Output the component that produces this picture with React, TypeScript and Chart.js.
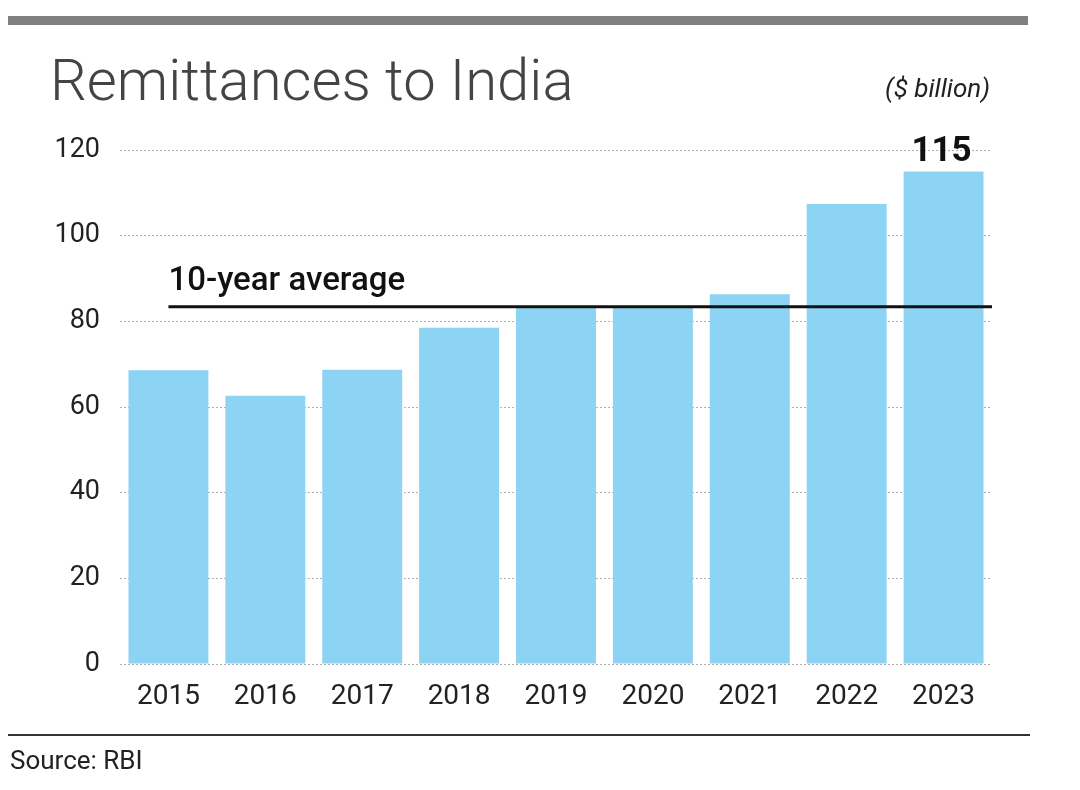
import { useEffect, useRef } from "react";
import { Chart, registerables } from "chart.js";

Chart.register(...registerables);

const years = ["2015", "2016", "2017", "2018", "2019", "2020", "2021", "2022", "2023"];
const remittances = [68.6, 62.6, 68.7, 78.5, 83.3, 83.2, 86.3, 107.4, 115.0];
const tenYearAverage = 83.4;
const yTickValues = [0, 20, 40, 60, 80, 100, 120];
const titleText = "Remittances to India";
const unitText = "($ billion)";
const averageText = "10-year average";
const highlightText = "115";
const sourceText = "Source: RBI";

const sans = "Roboto, 'Noto Sans', sans-serif";

export default function App() {
  const canvasRef = useRef<HTMLCanvasElement | null>(null);

  useEffect(() => {
    const canvas = canvasRef.current;
    if (!canvas) return;

    const decor = {
      id: "decor",
      beforeDraw(chart: any) {
        const ctx = chart.ctx;
        ctx.save();
        ctx.fillStyle = "#ffffff";
        ctx.fillRect(0, 0, chart.width, chart.height);
        ctx.fillStyle = "#808080";
        ctx.fillRect(8, 16, 1020, 9);
        ctx.fillStyle = "#444444";
        ctx.font = `300 58px ${sans}`;
        ctx.textBaseline = "alphabetic";
        ctx.textAlign = "left";
        ctx.fillText(titleText, 50, 100);
        ctx.fillStyle = "#222";
        ctx.font = `italic 26px ${sans}`;
        ctx.textAlign = "right";
        ctx.fillText(unitText, 990, 97);
        ctx.fillStyle = "#333";
        ctx.fillRect(8, 734, 1022, 2);
        ctx.fillStyle = "#222";
        ctx.font = `26px ${sans}`;
        ctx.textAlign = "left";
        ctx.fillText(sourceText, 10, 769);
        ctx.restore();
      },
      afterDatasetsDraw(chart: any) {
        const ctx = chart.ctx;
        const xs = chart.scales.x;
        const ys = chart.scales.y;
        const y = ys.getPixelForValue(tenYearAverage);
        const x0 = xs.getPixelForValue(0);
        ctx.save();
        ctx.strokeStyle = "#111";
        ctx.lineWidth = 3;
        ctx.beginPath();
        ctx.moveTo(x0, y);
        ctx.lineTo(chart.chartArea.right, y);
        ctx.stroke();
        ctx.fillStyle = "#111";
        ctx.font = `500 33px ${sans}`;
        ctx.textAlign = "left";
        ctx.textBaseline = "alphabetic";
        ctx.fillText(averageText, x0, y - 17);
        const meta = chart.getDatasetMeta(0);
        const last = meta.data[meta.data.length - 1];
        ctx.font = `bold 35px ${sans}`;
        ctx.textAlign = "center";
        ctx.fillText(highlightText, last.x - 2, last.y - 10);
        ctx.restore();
      },
    };

    const chart = new Chart(canvas, {
      type: "bar",
      data: {
        labels: years,
        datasets: [
          {
            data: remittances,
            backgroundColor: "#8dd3f4",
            borderWidth: 0,
            barPercentage: 0.825,
            categoryPercentage: 1,
          },
        ],
      },
      options: {
        animation: false,
        responsive: true,
        maintainAspectRatio: false,
        layout: { padding: { top: 150, right: 88, left: 0, bottom: 0 } },
        plugins: {
          legend: { display: false },
          tooltip: { enabled: false },
          title: { display: false },
        },
        scales: {
          x: {
            afterFit(scale: any) {
              scale.height = 126;
            },
            grid: { display: false },
            border: { display: false },
            ticks: {
              color: "#222",
              font: { family: sans, size: 28 },
              padding: 8,
              maxRotation: 0,
            },
          },
          y: {
            min: 0,
            max: 120,
            z: 1,
            afterFit(scale: any) {
              scale.width = 120;
            },
            afterBuildTicks(scale: any) {
              scale.ticks = yTickValues.map((v) => ({ value: v }));
            },
            border: { display: false, dash: [2, 2] },
            grid: {
              color: "rgba(110,110,110,0.55)",
              lineWidth: 1,
              drawTicks: false,
            },
            ticks: {
              color: "#222",
              font: { family: sans, size: 27 },
              padding: 20,
            },
          },
        },
      },
      plugins: [decor],
    });

    return () => chart.destroy();
  }, []);

  return (
    <div style={{ position: "absolute", left: 0, top: 0, width: 1080, height: 790 }}>
      <canvas ref={canvasRef} />
    </div>
  );
}
